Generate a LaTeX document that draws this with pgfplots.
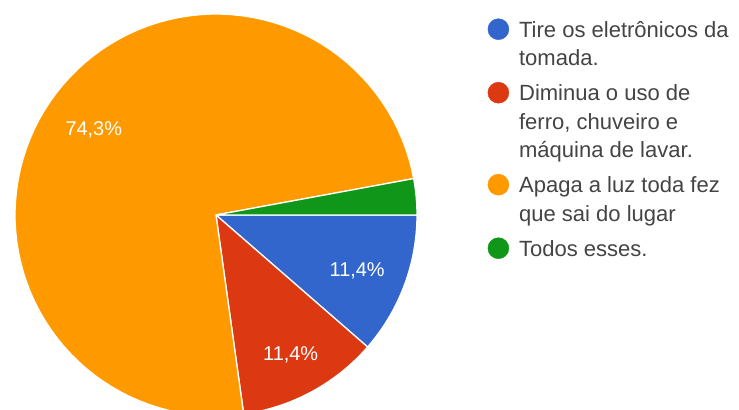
\documentclass[border=0pt]{standalone}
\usepackage{pgfplots}
\pgfplotsset{compat=1.18}
\usepackage{fontspec}
\setmainfont{Liberation Sans}

\definecolor{gblue}{HTML}{3366CC}
\definecolor{gred}{HTML}{DC3912}
\definecolor{gorange}{HTML}{FF9900}
\definecolor{ggreen}{HTML}{109618}
\definecolor{legtext}{HTML}{444444}

% shares in percent, clockwise from 3 o'clock
\newcommand{\vA}{11.4}% Tire os eletronicos da tomada
\newcommand{\vB}{11.4}% Diminua o uso ...
\newcommand{\vC}{74.3}% Apaga a luz ...
\newcommand{\vD}{2.9} % Todos esses

% pie centre and radius, in picture pixels
\newcommand{\cx}{216}
\newcommand{\cy}{195}
\newcommand{\rr}{201}

\newcommand{\pieslice}[3]{%
  \addplot[forget plot, fill=#1, draw=white, line width=1.3bp, line join=round,
    domain=#2:#3, samples=90]
    ({\cx+\rr*cos(x)},{\cy+\rr*sin(x)}) -- (\cx,\cy) -- cycle;}

% legend dot
\newcommand{\dotimg}[1]{\addlegendimage{legend image code/.code={\fill[#1] (0bp,0bp) circle (10.5bp);}}}

\begin{document}
\begin{tikzpicture}
\useasboundingbox (0,0) rectangle (739bp,410bp);
\pgfmathsetmacro{\aA}{-3.6*\vA}
\pgfmathsetmacro{\aB}{-3.6*(\vA+\vB)}
\pgfmathsetmacro{\aC}{-3.6*(\vA+\vB+\vC)}
\begin{axis}[
  scale only axis,
  width=739bp, height=410bp,
  xmin=0, xmax=739, ymin=0, ymax=410,
  hide axis,
  clip=true,
  legend cell align=left,
  legend style={
    at={(axis cs:487.5,392)}, anchor=north west,
    draw=none, fill=none, inner sep=0pt,
    font=\fontsize{22.1}{27}\selectfont\color{legtext},
    row sep=13bp, column sep=10bp,
    nodes={text height=12.5bp, text depth=3bp, inner sep=0pt},
    cells={anchor=west},
  },
]
\pieslice{gblue}{\aA}{0}
\pieslice{gred}{\aB}{\aA}
\pieslice{gorange}{\aC}{\aB}
\pieslice{ggreen}{-360}{\aC}

\node[white, font=\fontsize{20}{24}\selectfont]
  at (axis cs:{\cx+0.75*\rr*cos(\aA/2)},{\cy-3+0.75*\rr*sin(\aA/2)}) {11,4\%};
\node[white, font=\fontsize{20}{24}\selectfont]
  at (axis cs:{\cx+0.78*\rr*cos((\aA+\aB)/2)},{\cy-2+0.78*\rr*sin((\aA+\aB)/2)}) {11,4\%};
\node[white, font=\fontsize{20}{24}\selectfont]
  at (axis cs:{\cx+0.75*\rr*cos((\aB+\aC)/2)},{\cy-3+0.75*\rr*sin((\aB+\aC)/2)}) {74,3\%};

\dotimg{gblue}
\addlegendentry[text height=19bp]{Tire os eletrônicos da}
\addlegendimage{empty legend}
\addlegendentry{tomada.}
\dotimg{gred}
\addlegendentry[text height=19bp]{Diminua o uso de}
\addlegendimage{empty legend}
\addlegendentry{ferro, chuveiro e}
\addlegendimage{empty legend}
\addlegendentry{máquina de lavar.}
\dotimg{gorange}
\addlegendentry[text height=19bp]{Apaga a luz toda fez}
\addlegendimage{empty legend}
\addlegendentry{que sai do lugar}
\dotimg{ggreen}
\addlegendentry[text height=19bp]{Todos esses.}
\end{axis}
\end{tikzpicture}
\end{document}
